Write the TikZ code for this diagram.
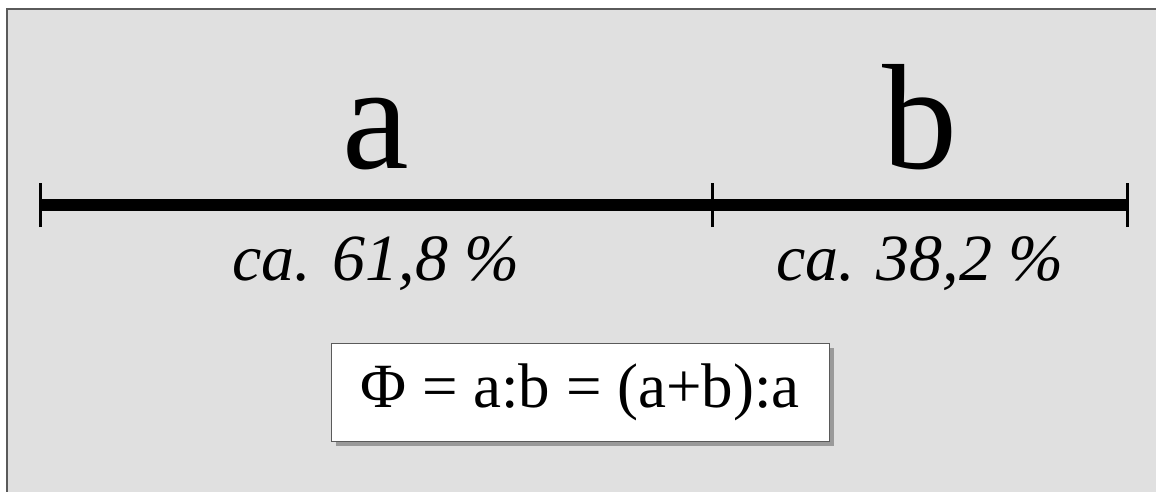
\documentclass[tikz,border=0pt]{standalone}
\usepackage{fontspec}
\setmainfont{Liberation Serif}
\usetikzlibrary{shadows}
\definecolor{panelgray}{HTML}{E0E0E0}
\definecolor{framegray}{HTML}{5A5A5A}
\definecolor{shadowgray}{HTML}{9A9A9A}

\begin{document}
\begin{tikzpicture}[x=1pt,y=-1pt]
        \useasboundingbox (0,0) rectangle (1156,491);
        \clip (0,0) rectangle (1156,491);
        \draw[fill=panelgray, draw=framegray, line width=2pt] (7,9) rectangle (1170,505);
        \coordinate (start) at (40,205);
        \coordinate (cut)   at (712,205);
        \coordinate (end)   at (1127,205);
        \draw[line width=12pt] (start) -- (end);
        \tikzstyle{tickmark}=[line width=3pt]
        \foreach \p in {start,cut,end}
            \draw[tickmark] ([yshift=-22pt]\p) -- ([yshift=22pt]\p);
        \tikzstyle{every node}=[inner sep=0pt, anchor=base]
        \node[font=\fontsize{150}{150}\selectfont] (a)    at (376,168) {a};
        \node[font=\fontsize{150}{150}\selectfont] (b)    at (920,168) {b};
        \node[font=\fontsize{66}{66}\selectfont\itshape] (pa) at (376,280) {ca. 61,8 \%};
        \node[font=\fontsize{66}{66}\selectfont\itshape] (pb) at (920,280) {ca. 38,2 \%};
        \tikzstyle{every node}=[]
        \node[fill=white, draw=framegray, line width=1pt, minimum width=498pt, minimum height=98pt,
              drop shadow={shadow xshift=5pt, shadow yshift=-5pt, fill=shadowgray, opacity=1},
              font=\fontsize{63}{63}\selectfont] (phi) at (580,392) {Φ = a:b = (a+b):a};
\end{tikzpicture}
\end{document}
